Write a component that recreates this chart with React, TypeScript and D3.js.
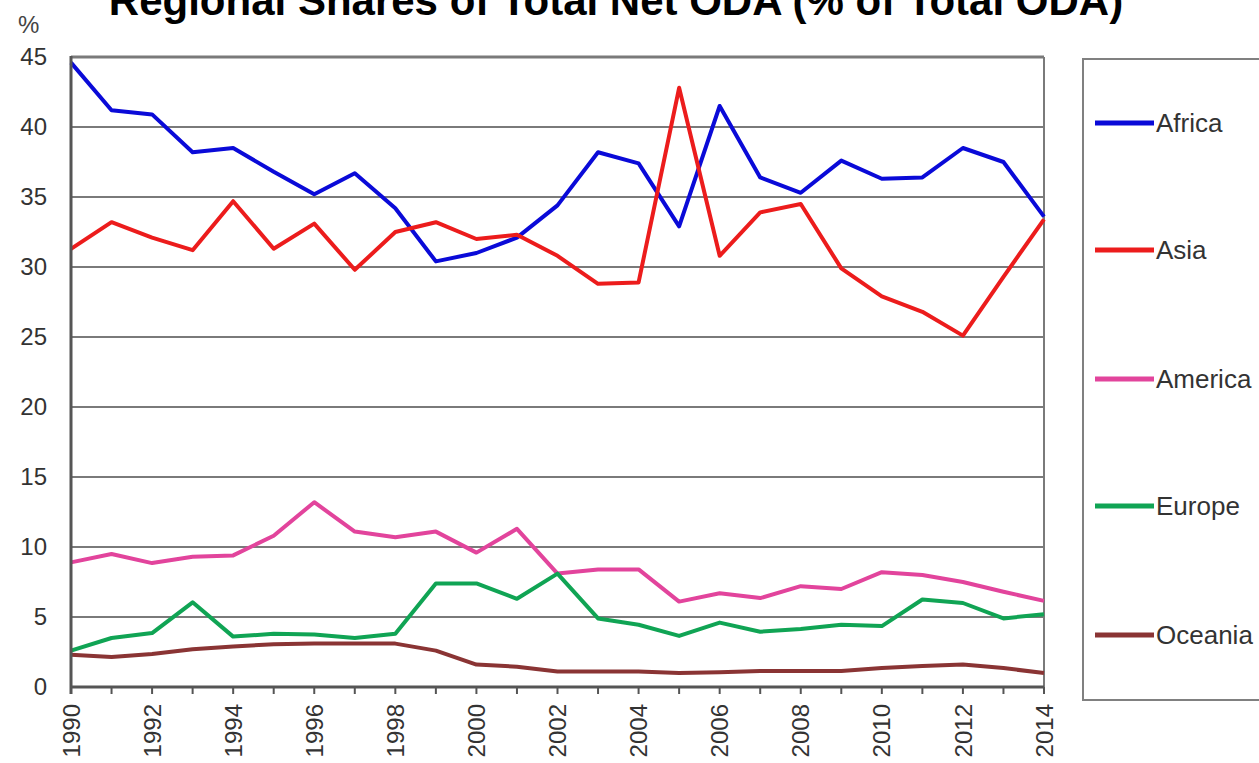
import React from "react";
import * as d3 from "d3";

const years = d3.range(1990, 2015);
const africa = [44.6, 41.2, 40.9, 38.2, 38.5, 36.8, 35.2, 36.7, 34.2, 30.4, 31.0, 32.1, 34.4, 38.2, 37.4, 32.9, 41.5, 36.4, 35.3, 37.6, 36.3, 36.4, 38.5, 37.5, 33.6];
const asia = [31.3, 33.2, 32.1, 31.2, 34.7, 31.3, 33.1, 29.8, 32.5, 33.2, 32.0, 32.3, 30.8, 28.8, 28.9, 42.8, 30.8, 33.9, 34.5, 29.9, 27.9, 26.8, 25.1, 29.3, 33.4];
const america = [8.9, 9.5, 8.85, 9.3, 9.4, 10.8, 13.2, 11.1, 10.7, 11.1, 9.6, 11.3, 8.1, 8.4, 8.4, 6.1, 6.7, 6.35, 7.2, 7.0, 8.2, 8.0, 7.5, 6.8, 6.15];
const europe = [2.6, 3.5, 3.85, 6.05, 3.6, 3.8, 3.75, 3.5, 3.8, 7.4, 7.4, 6.3, 8.1, 4.9, 4.45, 3.65, 4.6, 3.95, 4.15, 4.45, 4.35, 6.25, 6.0, 4.9, 5.2];
const oceania = [2.3, 2.15, 2.35, 2.7, 2.9, 3.05, 3.1, 3.1, 3.1, 2.6, 1.6, 1.45, 1.1, 1.1, 1.1, 1.0, 1.05, 1.15, 1.15, 1.15, 1.35, 1.5, 1.6, 1.35, 1.0];

const seriesNames = ["Africa", "Asia", "America", "Europe", "Oceania"];
const seriesValues = [africa, asia, america, europe, oceania];
const seriesColors = ["#0a0ad8", "#ec1c1c", "#e2449c", "#10a454", "#8a3434"];
const yTicks = [0, 5, 10, 15, 20, 25, 30, 35, 40, 45];
const xLabels = d3.range(1990, 2015, 2);

const title = "Regional Shares of Total Net ODA (% of Total ODA)";

export default function App() {
  const W = 1259, H = 763;
  const left = 71, right = 1044, top = 57, bottom = 687;
  const x = d3.scaleLinear().domain([1990, 2014]).range([left, right]);
  const y = d3.scaleLinear().domain([0, 45]).range([bottom, top]);
  const line = d3.line<number>().x((_, i) => x(years[i])).y((d) => y(d));
  const legendY = [123, 250, 379, 506, 635];
  const font = "'Liberation Sans', Arial, sans-serif";

  return (
    <svg width={W} height={H} style={{ position: "absolute", left: 0, top: 0, background: "#fff" }} fontFamily={font}>
      <rect x={0} y={0} width={W} height={H} fill="#fff" />
      <text x={616} y={15} textAnchor="middle" fontWeight="bold" fontSize={42} fill="#000">{title}</text>
      <text x={18} y={33} fontSize={24} fill="#444">%</text>
      {yTicks.filter((t) => t > 0 && t < 45).map((t) => (
        <line key={t} x1={left} x2={right} y1={y(t)} y2={y(t)} stroke="#7a7a7a" strokeWidth={2} />
      ))}
      <line x1={left} x2={right} y1={top} y2={top} stroke="#7a7a7a" strokeWidth={3} />
      <line x1={right} x2={right} y1={top} y2={bottom} stroke="#7a7a7a" strokeWidth={2} />
      {yTicks.map((t) => (
        <text key={t} x={47} y={y(t)} dy="0.35em" textAnchor="end" fontSize={24} fill="#333">{t}</text>
      ))}
      {years.map((yr) => (
        <line key={yr} x1={x(yr)} x2={x(yr)} y1={bottom} y2={bottom + 7} stroke="#555" strokeWidth={2} />
      ))}
      {xLabels.map((yr) => (
        <text key={yr} transform={`translate(${x(yr)},${704}) rotate(-90)`} dy="0.36em" textAnchor="end" fontSize={24} fill="#333">{yr}</text>
      ))}
      {seriesValues.map((vals, i) => (
        <path key={seriesNames[i]} d={line(vals) || ""} fill="none" stroke={seriesColors[i]} strokeWidth={4} strokeLinejoin="round" />
      ))}
      <line x1={left} x2={left} y1={top - 1} y2={bottom + 7} stroke="#555" strokeWidth={3} />
      <line x1={left} x2={right} y1={bottom} y2={bottom} stroke="#555" strokeWidth={3} />
      <rect x={1083} y={59} width={200} height={641} fill="none" stroke="#808080" strokeWidth={2} />
      {seriesNames.map((n, i) => (
        <g key={n}>
          <line x1={1095} x2={1154} y1={legendY[i]} y2={legendY[i]} stroke={seriesColors[i]} strokeWidth={5} />
          <text x={1156} y={legendY[i]} dy="0.36em" fontSize={26} fill="#333">{n}</text>
        </g>
      ))}
    </svg>
  );
}
